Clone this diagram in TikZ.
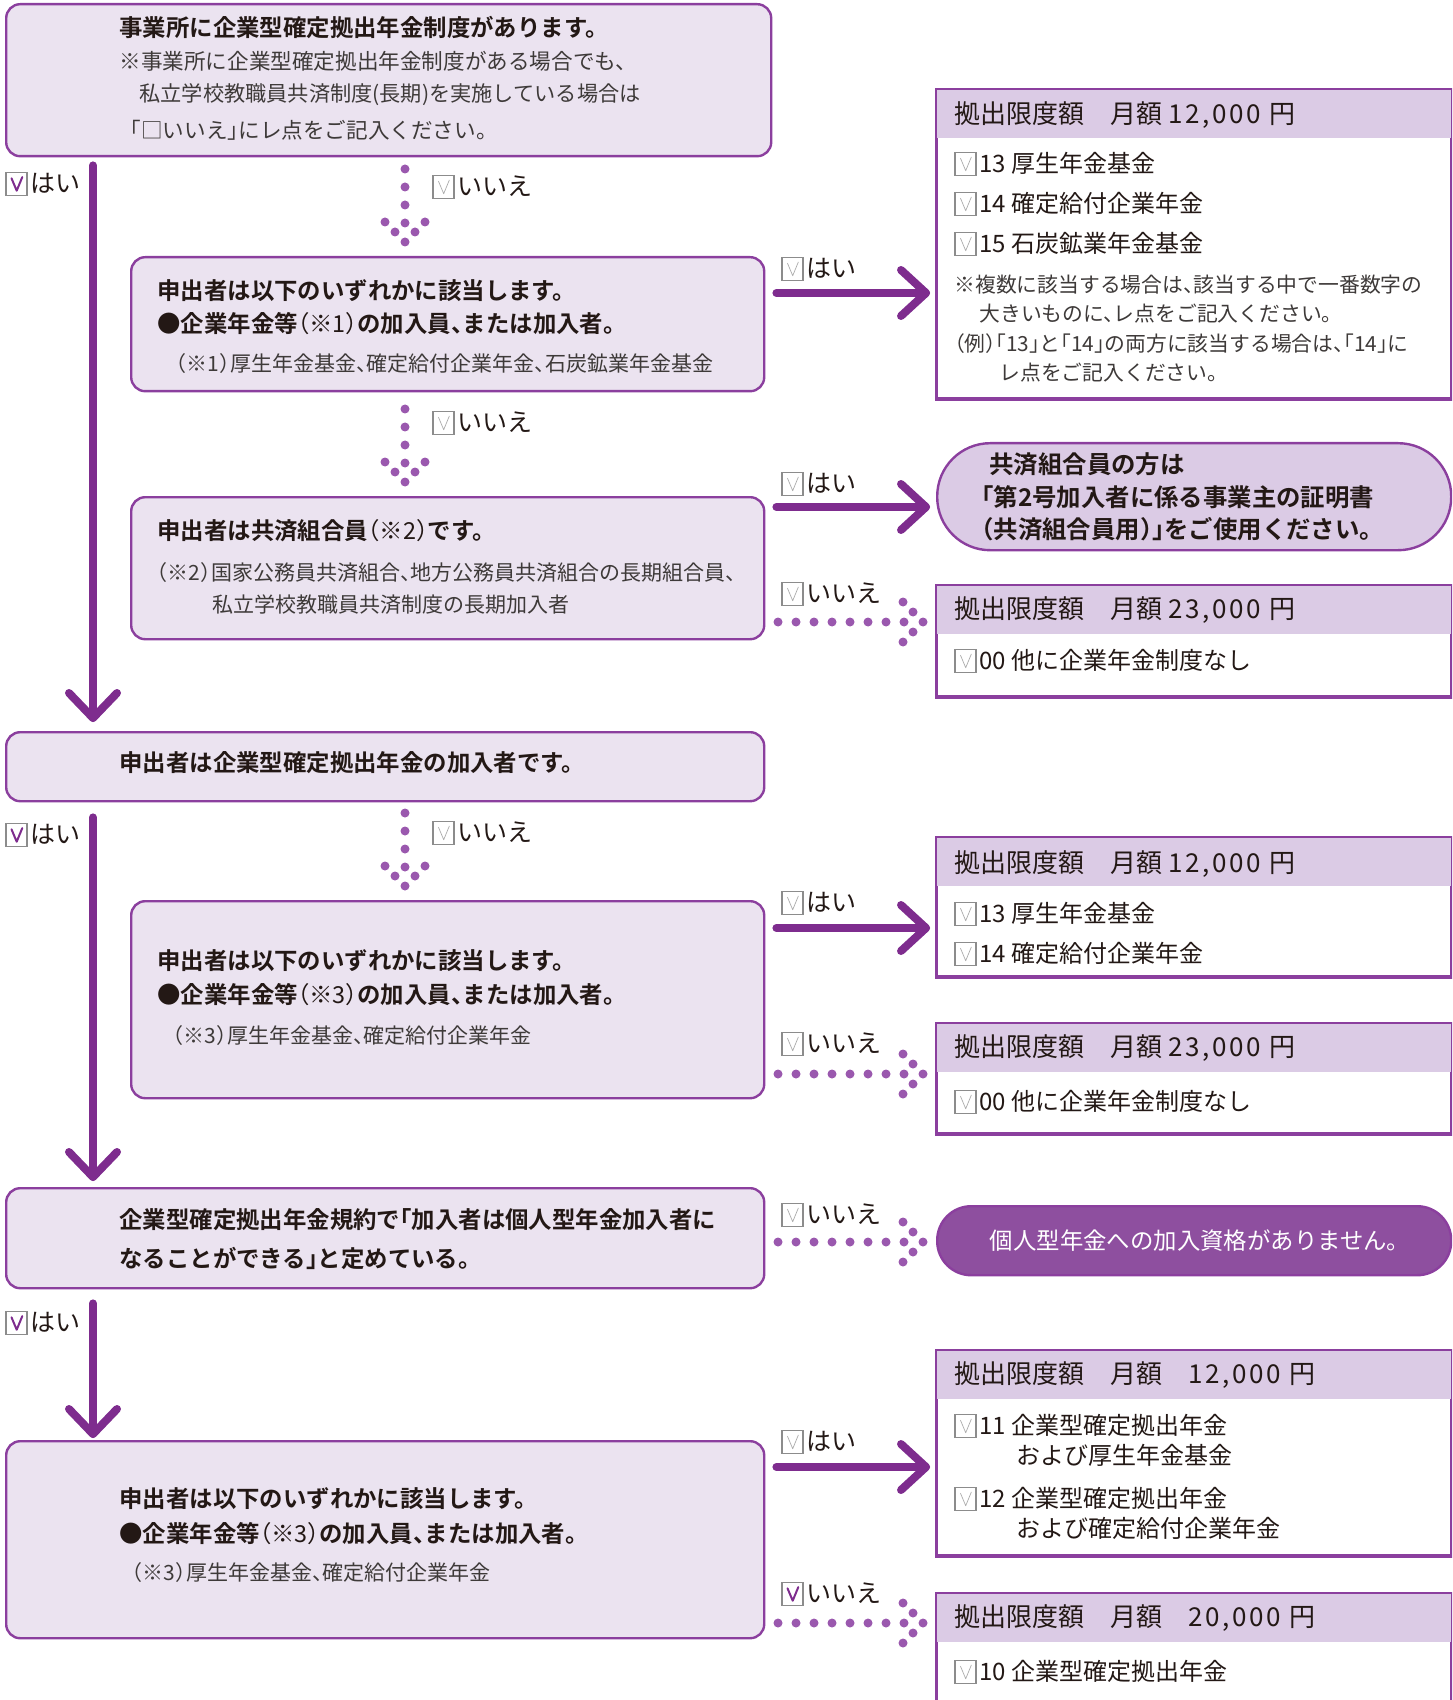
\documentclass[tikz,border=0pt]{standalone}
\usepackage{fontspec}
\setmainfont{Noto Sans CJK JP}[BoldFont={Noto Sans CJK JP Bold}, RawFeature=+halt]
\newfontfamily\jpfw{Noto Sans CJK JP}
\usetikzlibrary{calc}
\definecolor{pur}{HTML}{7E2C8E}
\definecolor{bord}{HTML}{8B3F9E}
\definecolor{dotc}{HTML}{9A58AE}
\definecolor{lav}{HTML}{EBE3F0}
\definecolor{hdr}{HTML}{DBCBE5}
\definecolor{darkp}{HTML}{8E4F9F}
\definecolor{txt}{HTML}{231815}
\definecolor{ntxt}{HTML}{3E3A39}
\definecolor{boxg}{HTML}{8C8C8C}
\definecolor{chkg}{HTML}{ABABAB}
\tikzset{
  ckg/.style={draw=chkg, line width=0.35pt},
  ckp/.style={draw=pur, line width=1pt},
}
\newcommand\ckbox[1]{\tikz[x=1pt,y=1pt,baseline=1.6pt]{\draw[draw=boxg,line width=0.9pt,fill=white] (0,0) rectangle (10.5,11.5); \draw[#1,line cap=round,line join=round] (2.6,8.6) -- (5.2,2.4) -- (8,9.2);}\kern1pt}
\newcommand\fs[1]{\fontsize{#1}{#1}\selectfont}
\newcommand\dg[1]{{\addfontfeature{LetterSpace=10}#1}\hspace{0.12em}}
\newcommand\solidV[2]{\draw[solidarr] (#1) -- (#2); \draw[solidarr] ($(#2)+(-24,-25)$) -- (#2) -- ($(#2)+(24,-25)$);}
\newcommand\solidH[2]{\draw[solidarr] (#1) -- (#2); \draw[solidarr] ($(#2)+(-25,-23)$) -- (#2) -- ($(#2)+(-25,23)$);}
\newcommand\dotV[2]{\draw[dotline] ($(#2)+(0,-19)$) -- (#1);
  \foreach \dx/\dy in {0/0,-10/-10,10/-10,-20/-20,20/-20}{\fill[dotc] ($(#2)+(\dx,\dy)$) circle[radius=2.25pt];}}
\newcommand\dotH[2]{\draw[dotline] ($(#2)+(-19,0)$) -- (#1);
  \foreach \dx/\dy in {0/0,-10/-10,-10/10,-20/-20,-20/20}{\fill[dotc] ($(#2)+(\dx,\dy)$) circle[radius=2.25pt];}}
\begin{document}
\begin{tikzpicture}[x=0.5pt,y=-0.5pt,
  qbox/.style={draw=bord, line width=1.2pt, fill=lav, rounded corners=7pt, anchor=north west, inner sep=0},
  rbox/.style={draw=bord, line width=1.2pt, fill=white, anchor=north west, inner sep=0},
  mainT/.style={font=\bfseries\fs{11.7pt}, text=txt, anchor=west, inner sep=0},
  noteT/.style={font=\fs{10.5pt}, text=ntxt, anchor=west, inner sep=0},
  hdrT/.style={font=\jpfw\fs{13pt}, text=txt, anchor=west, inner sep=0},
  itemT/.style={font=\fs{12pt}, text=txt, anchor=west, inner sep=0},
  pillT/.style={font=\bfseries\fs{12.2pt}, text=txt, anchor=west, inner sep=0},
  lblT/.style={font=\fs{12.5pt}, text=txt, anchor=west, inner sep=0},
  solidarr/.style={draw=pur, line width=4pt, line cap=round, line join=round},
  dotline/.style={draw=dotc, line width=4.5pt, line cap=round, dash pattern=on 0pt off 9pt},
]
\useasboundingbox (0,0) rectangle (1452,1700);
\clip (0,0) rectangle (1452,1700);

% ---------- left question boxes ----------
\node[qbox, minimum width=382.5pt, minimum height=76pt] (b1) at (5,3) {};
\node[qbox, minimum width=316.5pt, minimum height=67pt] (b2) at (130,256) {};
\node[qbox, minimum width=316.5pt, minimum height=71pt] (b3) at (130,496) {};
\node[qbox, minimum width=379pt, minimum height=34.5pt] (b4) at (5,731) {};
\node[qbox, minimum width=316.5pt, minimum height=98.5pt] (b5) at (130,900) {};
\node[qbox, minimum width=379pt, minimum height=50pt] (b6) at (5,1187) {};
\node[qbox, minimum width=379pt, minimum height=98.5pt] (b7) at (5,1440) {};

% ---------- right result boxes ----------
\node[rbox, minimum width=257pt, minimum height=154pt] (rb1) at (936,89) {};
\node[rbox, minimum width=257pt, minimum height=55pt] (rb2) at (936,585) {};
\node[rbox, minimum width=257pt, minimum height=69pt] (rb3) at (936,837) {};
\node[rbox, minimum width=257pt, minimum height=54.5pt] (rb4) at (936,1023) {};
\node[rbox, minimum width=257pt, minimum height=102pt] (rb5) at (936,1350) {};
\node[rbox, minimum width=257pt, minimum height=65pt] (rb6) at (936,1593) {};
\foreach \r in {rb1,rb2,rb3,rb4,rb5,rb6}{
  \fill[hdr] (\r.north west) rectangle ($(\r.north east)+(0,49)$);
  \draw[bord, line width=1.2pt] (\r.north west) rectangle (\r.south east);
}
\node[draw=bord, line width=1.2pt, fill=hdr, rounded corners=26.5pt, anchor=north west, inner sep=0,
      minimum width=257pt, minimum height=53.5pt] (p1) at (936,442) {};
\node[draw=bord, line width=1.2pt, fill=darkp, rounded corners=17pt, anchor=north west, inner sep=0,
      minimum width=257pt, minimum height=34.5pt] (p2) at (936,1205) {};

% ---------- texts in left boxes ----------
\node[mainT] (t1a) at (119,27) {事業所に企業型確定拠出年金制度があります。};
\node[noteT, font=\fs{10.8pt}] (t1b) at (119,61) {※事業所に企業型確定拠出年金制度がある場合でも、};
\node[noteT, font=\fs{10.6pt}] (t1c) at (139,95) {私立学校教職員共済制度(長期)を実施している場合は};
\node[noteT, font=\fs{10.8pt}] (t1d) at (130,130) {「□いいえ」にレ点をご記入ください。};

\node[mainT] (t2a) at (157,291) {申出者は以下のいずれかに該当します。};
\node[mainT] (t2b) at (157,324) {●企業年金等{\mdseries（※1）}の加入員、または加入者。};
\node[noteT] (t2c) at (176,364) {（※1）厚生年金基金、確定給付企業年金、石炭鉱業年金基金};

\node[mainT] (t3a) at (157,531) {申出者は共済組合員{\mdseries（※2）}です。};
\node[noteT] (t3b) at (157,573) {（※2）国家公務員共済組合、地方公務員共済組合の長期組合員、};
\node[noteT] (t3c) at (212,605) {私立学校教職員共済制度の長期加入者};

\node[mainT] (t4) at (119,763) {申出者は企業型確定拠出年金の加入者です。};

\node[mainT] (t5a) at (157,961) {申出者は以下のいずれかに該当します。};
\node[mainT] (t5b) at (157,995) {●企業年金等{\mdseries（※3）}の加入員、または加入者。};
\node[noteT] (t5c) at (173,1036) {（※3）厚生年金基金、確定給付企業年金};

\node[mainT] (t6a) at (119,1220) {企業型確定拠出年金規約で「加入者は個人型年金加入者に};
\node[mainT] (t6b) at (119,1258) {なることができる」と定めている。};

\node[mainT] (t7a) at (119,1499) {申出者は以下のいずれかに該当します。};
\node[mainT] (t7b) at (119,1534) {●企業年金等{\mdseries（※3）}の加入員、または加入者。};
\node[noteT] (t7c) at (132,1572) {（※3）厚生年金基金、確定給付企業年金};

% ---------- texts in right boxes ----------
\node[hdrT] (h1) at (954,115) {拠出限度額　月額 \dg{12,000} 円};
\node[itemT] (i1a) at (954,164) {\ckbox{ckg}13 厚生年金基金};
\node[itemT] (i1b) at (954,204) {\ckbox{ckg}14 確定給付企業年金};
\node[itemT] (i1c) at (954,244) {\ckbox{ckg}15 石炭鉱業年金基金};
\node[noteT, font=\fs{10.4pt}] (n1a) at (954,285) {※複数に該当する場合は、該当する中で一番数字の};
\node[noteT, font=\fs{10.4pt}] (n1b) at (979,314) {大きいものに、レ点をご記入ください。};
\node[noteT, font=\fs{10.4pt}] (n1c) at (954,344) {（例）「13」と「14」の両方に該当する場合は、「14」に};
\node[noteT, font=\fs{10.4pt}] (n1d) at (999,373) {レ点をご記入ください。};

\node[pillT] (p1a) at (989,464) {共済組合員の方は};
\node[pillT] (p1b) at (981,497) {「第2号加入者に係る事業主の証明書};
\node[pillT] (p1c) at (981,529) {（共済組合員用）」をご使用ください。};

\node[hdrT] (h2) at (954,610) {拠出限度額　月額 \dg{23,000} 円};
\node[itemT] (i2a) at (954,661) {\ckbox{ckg}00 他に企業年金制度なし};

\node[hdrT] (h3) at (954,864) {拠出限度額　月額 \dg{12,000} 円};
\node[itemT] (i3a) at (954,914) {\ckbox{ckg}13 厚生年金基金};
\node[itemT] (i3b) at (954,954) {\ckbox{ckg}14 確定給付企業年金};

\node[hdrT] (h4) at (954,1048) {拠出限度額　月額 \dg{23,000} 円};
\node[itemT] (i4a) at (954,1102) {\ckbox{ckg}00 他に企業年金制度なし};

\node[font=\fs{11.7pt}, text=white, inner sep=0] (p2t) at (p2.center) {個人型年金への加入資格がありません。};

\node[hdrT] (h5) at (954,1375) {拠出限度額　月額　\dg{12,000} 円};
\node[itemT] (i5a) at (954,1426) {\ckbox{ckg}11 企業型確定拠出年金};
\node[itemT] (i5b) at (1016,1455) {および厚生年金基金};
\node[itemT] (i5c) at (954,1499) {\ckbox{ckg}12 企業型確定拠出年金};
\node[itemT] (i5d) at (1016,1528) {および確定給付企業年金};

\node[hdrT] (h6) at (954,1618) {拠出限度額　月額　\dg{20,000} 円};
\node[itemT] (i6a) at (954,1672) {\ckbox{ckg}10 企業型確定拠出年金};

% ---------- labels ----------
\node[lblT] (l1) at (5,184) {\ckbox{ckp}はい};
\node[lblT] (l2) at (432,187) {\ckbox{ckg}いいえ};
\node[lblT] (l3) at (781,269) {\ckbox{ckg}はい};
\node[lblT] (l4) at (432,423) {\ckbox{ckg}いいえ};
\node[lblT] (l5) at (781,484) {\ckbox{ckg}はい};
\node[lblT] (l6) at (781,594) {\ckbox{ckg}いいえ};
\node[lblT] (l7) at (5,835) {\ckbox{ckp}はい};
\node[lblT] (l8) at (432,833) {\ckbox{ckg}いいえ};
\node[lblT] (l9) at (781,903) {\ckbox{ckg}はい};
\node[lblT] (l10) at (781,1044) {\ckbox{ckg}いいえ};
\node[lblT] (l11) at (781,1215) {\ckbox{ckg}いいえ};
\node[lblT] (l12) at (5,1323) {\ckbox{ckp}はい};
\node[lblT] (l13) at (781,1442) {\ckbox{ckg}はい};
\node[lblT] (l14) at (781,1594) {\ckbox{ckp}いいえ};

% ---------- solid arrows ----------
\solidV{$(b1.south west)+(88,8)$}{$(b4.north west)+(88,-13)$}
\solidV{$(b4.south west)+(88,15)$}{$(b6.north west)+(88,-10)$}
\solidV{$(b6.south west)+(88,14)$}{$(b7.north west)+(88,-6)$}
\solidH{$(b2.north east)+(11,37)$}{$(rb1.north west)+(-10,204)$}
\solidH{$(b3.north east)+(11,11)$}{$(p1.north west)+(-10,65)$}
\solidH{$(b5.north east)+(11,28)$}{$(rb3.north west)+(-10,91)$}
\solidH{$(b7.north east)+(11,27)$}{$(rb5.north west)+(-10,117)$}

% ---------- dotted arrows ----------
\dotV{$(b1.south west)+(400,9)$}{$(b2.north west)+(275,-14)$}
\dotV{$(b2.south west)+(275,9)$}{$(b3.north west)+(275,-14)$}
\dotV{$(b4.south west)+(400,9)$}{$(b5.north west)+(275,-14)$}
\dotH{$(b3.north east)+(7,126)$}{$(rb2.north west)+(-13,37)$}
\dotH{$(b5.north east)+(7,174)$}{$(rb4.north west)+(-13,51)$}
\dotH{$(b6.north east)+(7,55)$}{$(p2.north west)+(-13,37)$}
\dotH{$(b7.north east)+(7,183)$}{$(rb6.north west)+(-13,30)$}
\end{tikzpicture}
\end{document}
